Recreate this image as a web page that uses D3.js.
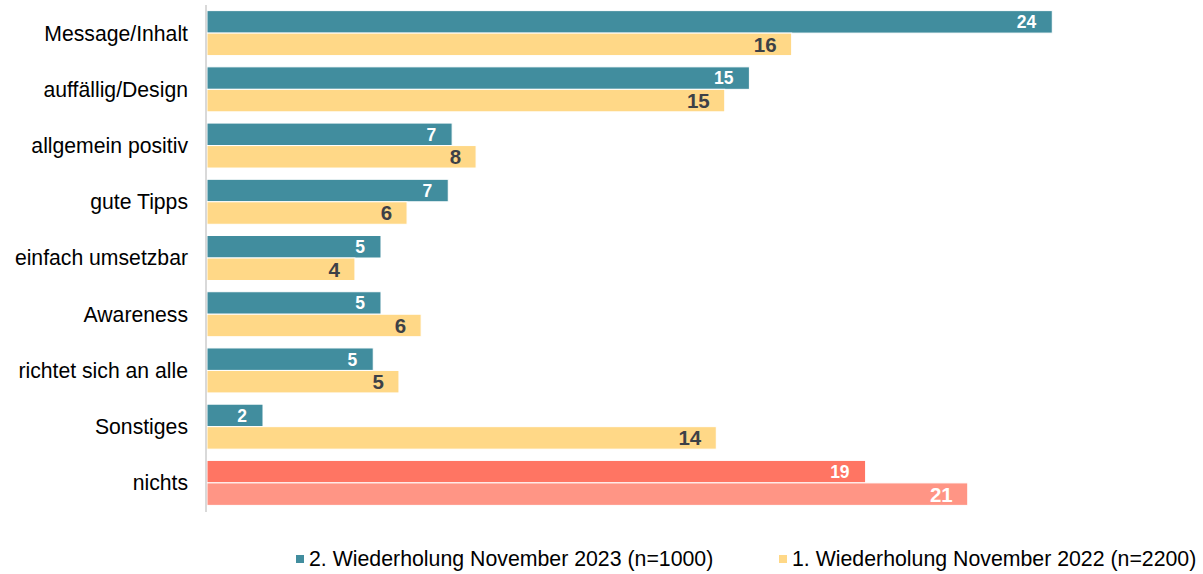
<!DOCTYPE html>
<html><head><meta charset="utf-8">
<script src="https://cdn.jsdelivr.net/npm/d3@7"></script>
<style>body{margin:0;background:#fff}svg{display:block;font-family:"Liberation Sans",Arial,sans-serif}</style>
</head><body><svg id="c" width="1203" height="574"></svg>
<script>
const categories = ["Message/Inhalt","auffällig/Design","allgemein positiv","gute Tipps","einfach umsetzbar","Awareness","richtet sich an alle","Sonstiges","nichts"];
const series2023 = [24.0, 15.4, 6.96, 6.85, 4.94, 4.94, 4.72, 1.59, 18.7];
const series2022 = [16.6, 14.7, 7.64, 5.68, 4.2, 6.08, 5.45, 14.46, 21.6];
const labels2023 = ["24","15","7","7","5","5","5","2","19"];
const labels2022 = ["16","15","8","6","4","6","5","14","21"];
const seriesNames = ["2. Wiederholung November 2023 (n=1000)","1. Wiederholung November 2022 (n=2200)"];

const svg = d3.select("#c");
const x = d3.scaleLinear().domain([0, 28]).range([207, 207 + 28 * 35.22]);
const y = d3.scaleBand().domain(categories).range([5, 511]).paddingInner(0.2).paddingOuter(0.1);
const sub = d3.scaleBand().domain([0, 1]).range([0, y.bandwidth()]);

const colTeal = "#418D9E", colYellow = "#FFD887", colRed = "#FF7563", colRedLight = "#FF9585";

const data = [];
categories.forEach((c, i) => {
  const last = i === categories.length - 1;
  data.push({c, s: 0, v: series2023[i], lab: labels2023[i], fill: last ? colRed : colTeal, txt: "#ffffff"});
  data.push({c, s: 1, v: series2022[i], lab: labels2022[i], fill: last ? colRedLight : colYellow, txt: last ? "#ffffff" : "#3d4147"});
});

const g = svg.append("g");
g.selectAll("rect").data(data).join("rect")
  .attr("x", x(0))
  .attr("y", d => y(d.c) + sub(d.s))
  .attr("width", d => x(d.v) - x(0))
  .attr("height", sub.bandwidth())
  .attr("fill", d => d.fill)
  .attr("stroke", "#fff").attr("stroke-width", 1);

g.selectAll("text.v").data(data).join("text").attr("class","v")
  .attr("x", d => x(d.v) - (d.s === 0 ? 16 : 15))
  .attr("y", d => y(d.c) + sub(d.s) + sub.bandwidth() / 2)
  .attr("dy", "0.36em")
  .attr("text-anchor", "end")
  .attr("font-size", d => d.s === 0 ? 17.5 : 20.5)
  .attr("font-weight", "bold")
  .attr("fill", d => d.txt)
  .text(d => d.lab);

// axis line
svg.append("line").attr("x1", x(0) - 1).attr("x2", x(0) - 1).attr("y1", 5).attr("y2", 512)
  .attr("stroke", "#d9d9d9").attr("stroke-width", 2);

const yAxis = svg.append("g").attr("transform", `translate(${x(0) - 19},0)`)
  .call(d3.axisLeft(y).tickSize(0).tickPadding(0));
yAxis.select(".domain").remove();
yAxis.selectAll("text").attr("font-size", 21.2).attr("fill", "#000").attr("dy", "0.35em")
  .attr("font-family", "\"Liberation Sans\",Arial,sans-serif");

// legend
const leg = [{n: seriesNames[0], c: colTeal, x: 296}, {n: seriesNames[1], c: colYellow, x: 779}];
const lg = svg.selectAll("g.leg").data(leg).join("g").attr("class","leg")
  .attr("transform", d => `translate(${d.x},559)`);
lg.append("rect").attr("x", 0).attr("y", -4).attr("width", 8).attr("height", 8).attr("fill", d => d.c);
lg.append("text").attr("x", 13).attr("dy", "0.35em").attr("font-size", 21.3).attr("fill", "#000").text(d => d.n);
</script></body></html>
